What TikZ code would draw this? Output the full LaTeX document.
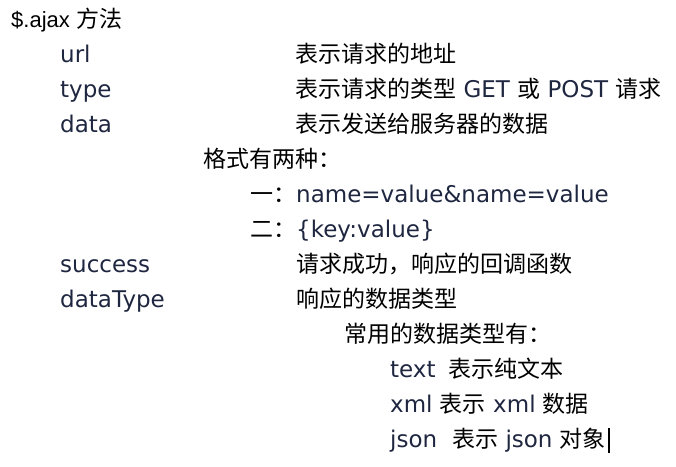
\documentclass[tikz,border=0pt]{standalone}
\usepackage{fontspec}
\setmainfont{DejaVu Sans}
\newfontfamily\cjk{Noto Sans CJK SC}
\newfontfamily\titlefont{Liberation Sans}
\usetikzlibrary{positioning}
\definecolor{ink}{HTML}{1E2640}
\newcommand{\zh}[1]{{\cjk\color{black}#1}}

\begin{document}
\begin{tikzpicture}[x=1pt,y=-1pt,
  txt/.style={anchor=base west,inner sep=0pt,text=ink,font=\fontsize{23}{23}\selectfont}]
  \useasboundingbox (0,0) rectangle (676,466); % page size

  \node[txt,font=\fontsize{22}{22}\titlefont,text=black] (ajax) at (11,27.5) {\$.ajax \zh{\fontsize{23}{23}\selectfont 方法}}; % title

  \node[txt] (url) at (60,62.5) {url};             % option names
  \node[txt] (type) at (60,97.5) {type};
  \node[txt] (data) at (60,132.5) {data};
  \node[txt] (success) at (60,272.5) {success};
  \node[txt] (datatype) at (60,307.5) {dataType};

  \node[txt] (urlText) at (295,62.5) {\zh{表示请求的地址}};       % descriptions
  \node[txt] (typeText) at (295,97.5) {\zh{表示请求的类型} GET \zh{或} POST \zh{请求}};
  \node[txt] (dataText) at (295,132.5) {\zh{表示发送给服务器的数据}};

  \node[txt] (fmt) at (203,167.5) {\zh{格式有两种：}};          % data formats
  \node[txt] (fmtOne) at (250,202.5) {\zh{一：}name=value\&name=value};
  \node[txt] (fmtTwo) at (250,237.5) {\zh{二：}\{key:value\}};

  \node[txt] (successText) at (296,272.5) {\zh{请求成功，响应的回调函数}};
  \node[txt] (datatypeText) at (296,307.5) {\zh{响应的数据类型}};

  \node[txt] (common) at (344,342.5) {\zh{常用的数据类型有：}};   % data types
  \node[txt] (text) at (390,377.5) {text\hspace{13pt}\zh{表示纯文本}};
  \node[txt] (xml) at (390,412.5) {xml \zh{表示} xml \zh{数据}};
  \node[txt] (json) at (390,447.5) {json\hspace{15pt}\zh{表示} json \zh{对象}};

  \coordinate (caretTop) at (609,428);   % text cursor
  \coordinate (caretBot) at (609,453);
  \draw[line width=1.6pt] (caretTop) -- (caretBot);
\end{tikzpicture}
\end{document}
